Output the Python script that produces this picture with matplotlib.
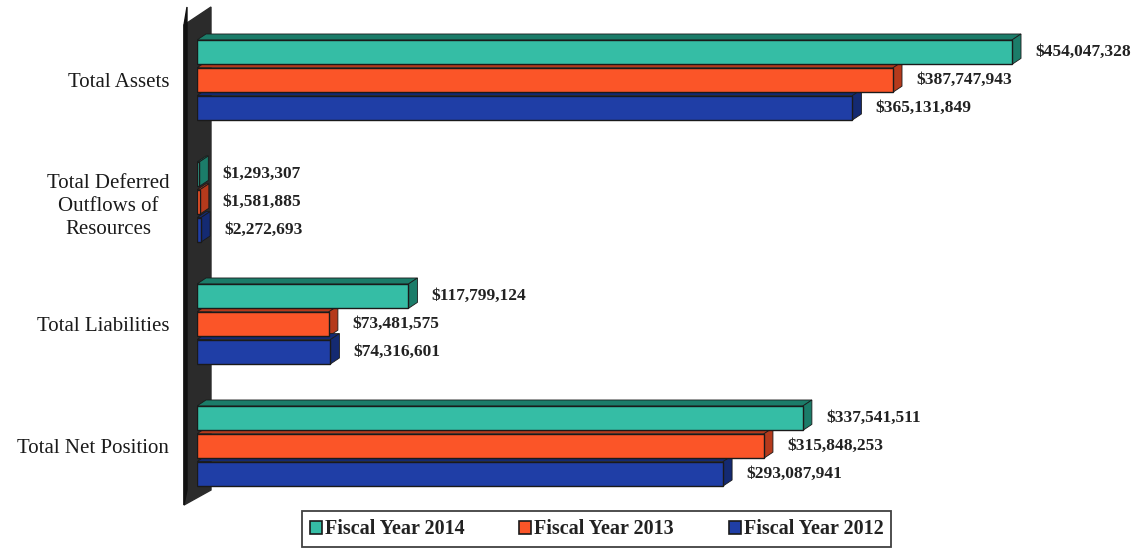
import matplotlib.pyplot as plt
import matplotlib.patches as mpatches
import numpy as np

categories = ['Total Assets', 'Total Deferred\nOutflows of\nResources', 'Total Liabilities', 'Total Net Position']
years = ['Fiscal Year 2014', 'Fiscal Year 2013', 'Fiscal Year 2012']
fy2014 = [454047328, 1293307, 117799124, 337541511]
fy2013 = [387747943, 1581885, 73481575, 315848253]
fy2012 = [365131849, 2272693, 74316601, 293087941]

face = ['#35bda5', '#fb5528', '#1f3ea6']
side = ['#1b7c69', '#b53a1c', '#142a72']

W, H = 1139, 553
fig = plt.figure(figsize=(W / 100, H / 100), dpi=100)
ax = fig.add_axes([197 / W, 43 / H, 1 - 197 / W, 510 / H])

pxx = 1e6 / 1.795      # dollars per pixel on x
pxy = 1 / 122.0        # category units per pixel on y
ax.set_xlim(0, (W - 197) * pxx)
ax.set_ylim((510 - 80) * pxy, -80 * pxy)

h = 0.2
step = 0.228
dx = 9 * pxx
dy = 6 * pxy

# back wall
wx = [-13 * pxx, 14 * pxx, 14 * pxx, -13 * pxx]
wy = [-55 * pxy, -73 * pxy, 410 * pxy, 425 * pxy]
ax.fill(wx, wy, color='#2b2b2b', clip_on=False, zorder=1)
ax.fill([-13 * pxx, -10 * pxx, -10 * pxx, -13 * pxx], wy, color='#111111', clip_on=False, zorder=1)

series = [fy2014, fy2013, fy2012]
y = np.arange(len(categories))
for k, vals in enumerate(series):
    yc = y + (k - 1) * step
    for i, v in enumerate(vals):
        top = yc[i] - h / 2
        bot = yc[i] + h / 2
        # top face
        ax.fill([0, v, v + dx, dx], [top, top, top - dy, top - dy],
                color=side[k], ec='#1a1a1a', lw=0.6, zorder=3)
        # right face
        ax.fill([v, v + dx, v + dx, v], [top, top - dy, bot - dy, bot],
                color=side[k], ec='#1a1a1a', lw=0.6, zorder=3)
    ax.barh(yc, vals, height=h, color=face[k], edgecolor='#1a1a1a', lw=1.0, zorder=4)
    for i, v in enumerate(vals):
        ax.text(v + dx + 14 * pxx, yc[i], '${:,}'.format(v), va='center', ha='left',
                fontsize=12.5, fontweight='bold', family='Liberation Serif', color='#222222')

ax.set_yticks(y)
ax.set_yticklabels(categories, fontsize=15, family='Liberation Serif', color='#1a1a1a')
for t in ax.get_yticklabels():
    t.set_multialignment('center')
    t.set_linespacing(1.3)
ax.tick_params(axis='y', length=0, pad=20)
ax.set_xticks([])
for s in ax.spines.values():
    s.set_visible(False)

handles = [mpatches.Patch(facecolor=face[k], edgecolor='#1a1a1a', lw=1.2, label=years[k]) for k in range(3)]
leg = fig.legend(handles=handles, loc='lower center', bbox_to_anchor=(0.524, -0.008), ncol=3,
                 frameon=True, fancybox=False, edgecolor='#111111', handlelength=0.6, handleheight=0.6,
                 handletextpad=0.15, columnspacing=2.7, borderpad=0.4, borderaxespad=0.5,
                 prop={'family': 'Liberation Serif', 'weight': 'bold', 'size': 14.5})
leg.get_frame().set_linewidth(1.3)
for t in leg.get_texts():
    t.set_color('#222222')

fig.savefig('out.png', dpi=100)
